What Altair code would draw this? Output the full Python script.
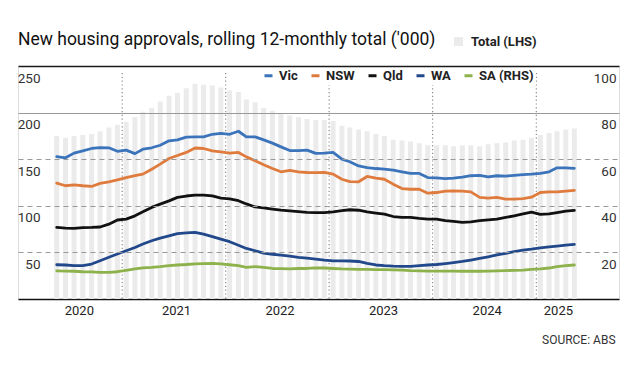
import altair as alt
import pandas as pd

# ---- data (rolling 12-month totals, '000) ----
months = pd.date_range("2020-05-01", periods=61, freq="MS") + pd.Timedelta(days=14)
dates = [d.strftime("%Y-%m-%d") for d in months]

total = [175, 173, 175, 176, 177, 180, 184, 187, 190, 195, 201, 205, 212, 218, 221, 226,
         231, 230, 229, 227, 224, 222, 214, 211, 205, 202, 199, 197, 195, 193, 192,
         192, 191, 186, 184, 182, 180, 177, 175, 171, 170, 169, 167, 165, 165, 165,
         164, 165, 165, 164, 166, 167, 168, 170, 171, 173, 176, 178, 180, 182, 183]

vic = [61.1, 60.6, 62.6, 63.6, 64.6, 65.0, 64.9, 63.4, 63.9, 62.4, 64.3, 64.9, 66.0, 67.9, 68.3, 69.5,
       69.6, 69.6, 70.7, 71.1, 70.7, 72.0, 69.6, 69.6, 68.3, 66.9, 65.3, 63.7, 63.7, 63.9, 62.5,
       62.6, 62.9, 60.0, 58.9, 57.1, 56.4, 56.0, 55.7, 55.3, 54.6, 53.9, 53.9, 52.1, 52.0, 51.7,
       51.9, 52.3, 52.9, 53.1, 52.4, 52.9, 52.7, 53.1, 53.4, 53.6, 53.9, 54.6, 56.3, 56.3, 56.1]

nsw = [49.7, 48.6, 49.0, 48.6, 48.3, 49.6, 50.3, 51.1, 52.1, 52.9, 53.6, 55.7, 57.9, 60.3, 61.6, 62.9,
       64.8, 64.6, 63.6, 63.1, 62.6, 62.9, 61.0, 59.3, 57.6, 56.0, 54.6, 55.2, 54.6, 54.3, 54.2,
       54.3, 53.6, 51.4, 50.4, 50.3, 52.6, 51.9, 51.4, 49.3, 47.4, 47.1, 47.1, 45.4, 45.7, 46.3,
       46.4, 46.3, 46.0, 43.6, 43.3, 43.6, 42.9, 42.9, 43.1, 43.7, 45.7, 46.0, 46.0, 46.3, 46.6]

qld = [30.7, 30.4, 30.3, 30.6, 30.7, 30.9, 32.1, 33.9, 34.3, 35.7, 37.4, 39.3, 40.7, 42.1, 43.6, 44.2,
       44.6, 44.6, 44.3, 43.3, 43.0, 42.2, 40.8, 39.5, 39.1, 38.6, 38.1, 37.8, 37.5, 37.2, 37.1,
       37.1, 37.4, 37.9, 38.3, 38.1, 37.4, 36.9, 36.4, 35.4, 35.0, 35.0, 34.6, 34.3, 34.3, 33.6,
       33.3, 32.9, 33.1, 33.6, 34.0, 34.3, 35.0, 35.7, 36.5, 37.3, 36.3, 36.5, 37.1, 37.7, 38.0]

wa = [14.7, 14.6, 14.3, 14.3, 15.0, 16.4, 17.9, 19.3, 20.7, 22.1, 23.6, 25.0, 26.1, 27.1, 28.1, 28.4,
      28.6, 27.8, 26.8, 25.7, 24.6, 23.1, 21.7, 20.7, 19.7, 19.2, 18.8, 18.4, 17.9, 17.5, 17.1,
      16.7, 16.4, 16.4, 16.3, 16.1, 15.3, 14.6, 14.3, 14.1, 14.0, 14.0, 14.3, 14.6, 14.8, 15.2,
      15.6, 16.1, 16.7, 17.4, 18.1, 18.9, 19.6, 20.3, 21.0, 21.4, 21.9, 22.4, 22.7, 23.1, 23.4]

sa = [12.1, 12.0, 11.9, 11.7, 11.6, 11.4, 11.4, 11.7, 12.3, 12.9, 13.4, 13.6, 13.9, 14.3, 14.6, 14.8,
      15.1, 15.2, 15.3, 15.1, 14.7, 14.3, 13.6, 13.9, 13.6, 13.1, 13.0, 12.9, 13.1, 13.1, 13.4,
      13.3, 13.1, 12.9, 12.8, 12.7, 12.7, 12.6, 12.6, 12.5, 12.4, 12.2, 12.1, 12.0, 12.0, 12.0,
      12.0, 11.9, 11.9, 11.9, 12.0, 12.1, 12.2, 12.3, 12.4, 12.7, 12.9, 13.3, 13.9, 14.3, 14.6]

states = ["Vic", "NSW", "Qld", "WA", "SA (RHS)"]
state_colors = ["#3b74bb", "#df7b3d", "#111111", "#20488a", "#8db24b"]
year_starts = ["2021-01-01", "2022-01-01", "2023-01-01", "2024-01-01", "2025-01-01"]
year_label_pos = [(2020, 8, 1), (2021, 7, 10), (2022, 7, 10), (2023, 7, 10), (2024, 7, 10), (2025, 3, 18)]
left_ticks = [50, 100, 150, 200, 250]
right_ticks = [20, 40, 60, 80, 100]

for s in (total, vic, nsw, qld, wa, sa):
    assert len(s) == len(dates)

df_total = pd.DataFrame({"date": dates, "total": total, "series": "Total (LHS)"})
rows = []
for name, vals in zip(states, [vic, nsw, qld, wa, sa]):
    for d, v in zip(dates, vals):
        rows.append({"date": d, "value": v, "state": name})
df_lines = pd.DataFrame(rows)
df_rules = pd.DataFrame({"date": year_starts})

FONT = "Roboto"
TFONT = "Roboto"

x_scale = alt.Scale(domain=[alt.DateTime(year=2020, month=1, date=17),
                            alt.DateTime(year=2025, month=10, date=2)])

x_axis = alt.Axis(
    values=[alt.DateTime(year=y, month=m, date=d) for (y, m, d) in year_label_pos],
    format="%Y", labelFont=FONT, labelFontSize=13, labelColor="#222",
    domainColor="#111", domainWidth=1.5, ticks=False, grid=False,
    labelPadding=5, labelFlush=False, labelOverlap=False,
    title="SOURCE: ABS", titleX=597, titleY=40, titleAlign="right",
    titleBaseline="middle", titleFont=FONT, titleFontSize=12,
    titleFontWeight="normal", titleColor="#333",
)

bars = alt.Chart(df_total).mark_bar(width=5).encode(
    x=alt.X("date:T", scale=x_scale, axis=x_axis),
    y=alt.Y("total:Q", scale=alt.Scale(domain=[0, 250]),
            axis=alt.Axis(
                orient="left", values=left_ticks, title=None, domain=False,
                ticks=False, tickSize=0, labelAlign="right", labelPadding=-22,
                labelBaseline="middle", labelOffset=12, labelFont=FONT,
                labelFontSize=13.5, labelColor="#333", grid=True,
                gridColor={"condition": {"test": "datum.value == 250", "value": "#1a1a1a"}, "value": "#999999"},
                gridWidth={"condition": {"test": "datum.value == 250", "value": 1.5}, "value": 1},
                gridDash={"condition": {"test": "datum.value >= 200", "value": []}, "value": [5, 4]},
                zindex=1,
            )),
    fill=alt.Fill("series:N", scale=alt.Scale(domain=["Total (LHS)"], range=["#ebebeb"]),
                  legend=alt.Legend(title=None, orient="none", legendX=434, legendY=-31,
                                    symbolType="square", symbolSize=81, symbolStrokeWidth=0,
                                    labelFont=FONT, labelFontSize=13, labelFontWeight="bold",
                                    labelColor="#222", labelOffset=6)),
)

rules = alt.Chart(df_rules).mark_rule(color="#8a8a8a", strokeWidth=1.2, strokeDash=[1.2, 2.6]).encode(
    x=alt.X("date:T", scale=x_scale),
    y=alt.value(7),
    y2=alt.value(233),
)

lines = alt.Chart(df_lines).mark_line(strokeWidth=2.8, strokeJoin="round", strokeCap="round").encode(
    x=alt.X("date:T", scale=x_scale),
    y=alt.Y("value:Q", scale=alt.Scale(domain=[0, 100]),
            axis=alt.Axis(
                orient="right", values=right_ticks, title=None, domain=False,
                ticks=False, tickSize=0, grid=False, labelAlign="right",
                labelPadding=-3, labelBaseline="middle", labelOffset=12,
                labelFont=FONT, labelFontSize=13.5, labelColor="#333",
            )),
    stroke=alt.Stroke("state:N", scale=alt.Scale(domain=states, range=state_colors),
                      legend=alt.Legend(title=None, orient="none", legendX=242, legendY=1,
                                        direction="horizontal", symbolType="stroke",
                                        symbolStrokeWidth=3, symbolSize=64,
                                        labelFont=FONT, labelFontSize=13,
                                        labelFontWeight="bold", labelColor="#222",
                                        labelOffset=4, columnPadding=7, padding=2,
                                        fillColor="white")),
)

chart = alt.layer(bars, rules, lines).resolve_scale(
    y="independent", fill="independent", stroke="independent"
).properties(
    width=601, height=233,
    padding={"left": 18, "top": 66, "right": 15, "bottom": 77},
    autosize=alt.AutoSizeParams(type="none"),
    title=alt.Title("New housing approvals, rolling 12-monthly total ('000)",
                    anchor="start", frame="group", font=TFONT, fontSize=17.5,
                    fontWeight="normal", color="#111", offset=17, dy=30),
).configure_view(stroke=None).configure(background="white")

chart.save("out.html", embed_options={"renderer": "svg", "actions": False})
